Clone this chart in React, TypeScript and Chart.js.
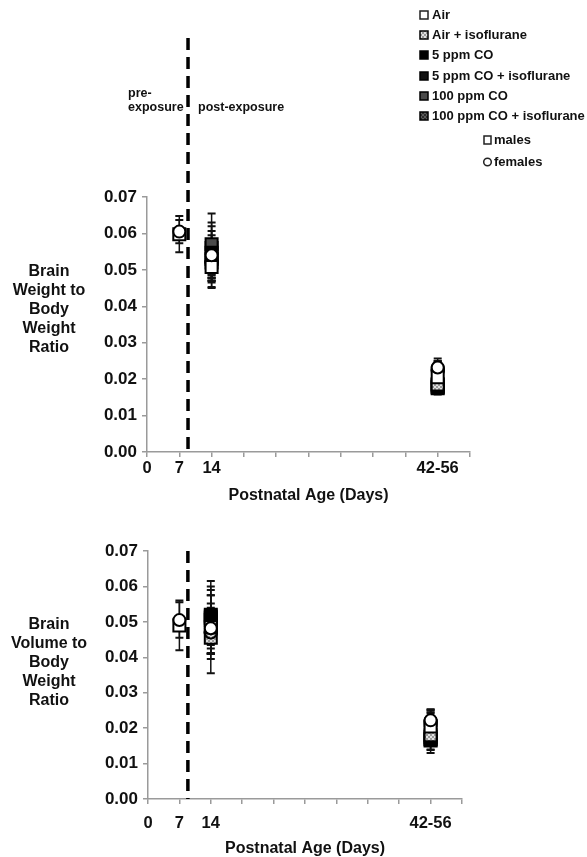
import React, { useEffect, useRef } from 'react';
import { Chart, registerables } from 'chart.js';
Chart.register(...registerables);

const FONT = '"Liberation Sans", Arial, Helvetica, sans-serif';

const groups = ['Air', 'Air + isoflurane', '5 ppm CO', '5 ppm CO + isoflurane', '100 ppm CO', '100 ppm CO + isoflurane'];
const dayPositions = [1, 2, 9];
const xTickPositions = [0, 1, 2, 9];
const xTickLabels = ['0', '7', '14', '42-56'];
const xTitle = 'Postnatal Age (Days)';
const sexLabels = ['males', 'females'];

// Brain weight to body weight ratio (values at 7, 14, 42-56 days)
const weightMales = [
  [0.0598, 0.0508, 0.0205],
  [null, 0.052, 0.0185],
  [null, 0.0547, 0.0175],
  [null, 0.053, 0.018],
  [null, 0.057, 0.0185],
  [null, 0.056, 0.0178],
];
const weightMalesErr = [
  [0.005, 0.0055, 0.0025],
  [null, 0.005, 0.002],
  [null, 0.006, 0.0015],
  [null, 0.0065, 0.002],
  [null, 0.0085, 0.002],
  [null, 0.006, 0.002],
];
const weightFemales = [
  [0.0605, 0.054, 0.0232],
  [null, 0.0518, 0.0222],
  [null, 0.052, 0.0225],
  [null, 0.0522, 0.0228],
  [null, 0.0525, 0.023],
  [null, 0.052, 0.0225],
];
const weightFemalesErr = [
  [0.0032, 0.009, 0.0025],
  [null, 0.004, 0.002],
  [null, 0.005, 0.002],
  [null, 0.0045, 0.0022],
  [null, 0.0055, 0.002],
  [null, 0.0042, 0.002],
];

// Brain volume to body weight ratio
const volumeMales = [
  [0.049, 0.0485, 0.0205],
  [null, 0.0455, 0.018],
  [null, 0.052, 0.0165],
  [null, 0.051, 0.017],
  [null, 0.0515, 0.0175],
  [null, 0.0505, 0.0168],
];
const volumeMalesErr = [
  [0.007, 0.013, 0.003],
  [null, 0.006, 0.0025],
  [null, 0.008, 0.0035],
  [null, 0.0065, 0.003],
  [null, 0.0075, 0.0025],
  [null, 0.007, 0.003],
];
const volumeFemales = [
  [0.0505, 0.0482, 0.0222],
  [null, 0.047, 0.0205],
  [null, 0.0475, 0.0215],
  [null, 0.048, 0.022],
  [null, 0.047, 0.0218],
  [null, 0.0468, 0.0212],
];
const volumeFemalesErr = [
  [0.005, 0.007, 0.003],
  [null, 0.006, 0.0025],
  [null, 0.0065, 0.003],
  [null, 0.0055, 0.003],
  [null, 0.006, 0.0035],
  [null, 0.0058, 0.003],
];

function makePattern(bg: string, fg: string): CanvasPattern | string {
  const c = document.createElement('canvas');
  c.width = 4;
  c.height = 4;
  const ctx = c.getContext('2d');
  if (!ctx) return bg;
  ctx.fillStyle = bg;
  ctx.fillRect(0, 0, 4, 4);
  ctx.fillStyle = fg;
  ctx.fillRect(0, 0, 2, 2);
  ctx.fillRect(2, 2, 2, 2);
  const p = ctx.createPattern(c, 'repeat');
  return p || bg;
}

function groupFills(): any[] {
  return [
    '#ffffff',
    makePattern('#9a9a9a', '#e0e0e0'),
    '#000000',
    '#111111',
    '#4a4a4a',
    makePattern('#2c2c2c', '#5a5a5a'),
  ];
}

function buildDatasets(males: any[][], malesErr: any[][], females: any[][], femalesErr: any[][], fills: any[]) {
  const ds: any[] = [];
  groups.forEach((g, gi) => {
    const mk = (vals: any[], errs: any[], sex: string) => {
      const pts: any[] = [];
      const es: any[] = [];
      vals.forEach((v, i) => {
        if (v !== null) {
          pts.push({ x: dayPositions[i], y: v });
          es.push(errs[i]);
        }
      });
      return {
        label: g + ' ' + sex,
        data: pts,
        errors: es,
        pointStyle: sex === 'females' ? 'circle' : 'rect',
        pointRadius: sex === 'females' ? 6 : 8.5,
        pointBorderWidth: 2,
        pointBorderColor: '#000',
        pointBackgroundColor: fills[gi],
        showLine: false,
      };
    };
    ds.push(mk(females[gi], femalesErr[gi], 'females'));
    ds.push(mk(males[gi], malesErr[gi], 'males'));
  });
  return ds;
}

const errorBarPlugin = {
  id: 'errorBars',
  beforeDatasetsDraw(chart: any) {
    const ctx = chart.ctx;
    const ys = chart.scales.y;
    ctx.save();
    ctx.strokeStyle = '#111';
    chart.data.datasets.forEach((d: any, di: number) => {
      const meta = chart.getDatasetMeta(di);
      meta.data.forEach((pt: any, j: number) => {
        const e = d.errors[j];
        if (e == null) return;
        const v = d.data[j].y;
        const x = pt.x;
        const y1 = ys.getPixelForValue(v + e);
        const y2 = ys.getPixelForValue(v - e);
        ctx.lineWidth = 1.5;
        ctx.beginPath();
        ctx.moveTo(x, y1);
        ctx.lineTo(x, y2);
        ctx.stroke();
        ctx.lineWidth = 2;
        ctx.beginPath();
        ctx.moveTo(x - 4, y1);
        ctx.lineTo(x + 4, y1);
        ctx.moveTo(x - 4, y2);
        ctx.lineTo(x + 4, y2);
        ctx.stroke();
      });
    });
    ctx.restore();
  },
};

function makeOverlayPlugin(cfg: any) {
  return {
    id: 'overlay',
    afterDraw(chart: any) {
      const ctx = chart.ctx;
      const xs = chart.scales.x;
      const area = chart.chartArea;
      ctx.save();
      // dashed separator line
      const lx = xs.getPixelForValue(1.27);
      ctx.strokeStyle = '#000';
      ctx.lineWidth = 3.5;
      ctx.setLineDash([12, 7]);
      ctx.beginPath();
      ctx.moveTo(lx, cfg.lineTop);
      ctx.lineTo(lx, area.bottom);
      ctx.stroke();
      ctx.setLineDash([]);

      ctx.fillStyle = '#111';
      ctx.textBaseline = 'middle';
      // y title
      ctx.font = 'bold 16px ' + FONT;
      ctx.textAlign = 'center';
      cfg.yTitle.forEach((line: string, i: number) => {
        ctx.fillText(line, 49, cfg.yTitleTop + i * 19);
      });
      // x title
      ctx.fillText(xTitle, (area.left + area.right) / 2, cfg.xTitleY);

      if (cfg.annotations) {
        ctx.font = 'bold 12.5px ' + FONT;
        ctx.textAlign = 'left';
        ctx.fillText('pre-', 128, 94);
        ctx.fillText('exposure', 128, 108);
        ctx.fillText('post-exposure', 198, 108);
      }

      if (cfg.legend) {
        const fills = cfg.fills;
        const ly = [15, 35, 55, 76, 96, 116];
        ctx.font = 'bold 13px ' + FONT;
        ctx.textAlign = 'left';
        groups.forEach((g, i) => {
          ctx.fillStyle = fills[i];
          ctx.fillRect(420, ly[i] - 4, 8, 8);
          ctx.strokeStyle = i === 0 ? '#222' : '#000';
          ctx.lineWidth = 1.5;
          ctx.strokeRect(420, ly[i] - 4, 8, 8);
          ctx.fillStyle = '#111';
          ctx.fillText(g, 432, ly[i]);
        });
        // sex legend
        ctx.fillStyle = '#fff';
        ctx.strokeStyle = '#222';
        ctx.lineWidth = 1.5;
        ctx.fillRect(484, 136, 7, 8);
        ctx.strokeRect(484, 136, 7, 8);
        ctx.beginPath();
        ctx.arc(487.5, 162, 3.8, 0, Math.PI * 2);
        ctx.fill();
        ctx.stroke();
        ctx.fillStyle = '#111';
        ctx.fillText(sexLabels[0], 494, 140);
        ctx.fillText(sexLabels[1], 494, 162);
      }
      ctx.restore();
    },
  };
}

function makeConfig(datasets: any[], opt: any, overlay: any) {
  const axisColor = '#9a9a9a';
  return {
    type: 'scatter' as const,
    data: { datasets },
    options: {
      responsive: false,
      animation: false,
      layout: { padding: { top: opt.padTop, right: opt.padRight, left: 0, bottom: 0 } },
      plugins: { legend: { display: false }, tooltip: { enabled: false } },
      scales: {
        x: {
          type: 'linear',
          min: 0,
          max: 10,
          afterBuildTicks: (s: any) => {
            const t: any[] = [];
            for (let v = 0; v <= 10; v++) t.push({ value: v });
            s.ticks = t;
          },
          ticks: {
            autoSkip: false,
            maxRotation: 0,
            padding: opt.xTickPad,
            color: '#111',
            font: { family: FONT, size: 16.5, weight: 'bold' },
            callback: (v: any) => {
              const idx = xTickPositions.indexOf(Number(v));
              return idx >= 0 ? xTickLabels[idx] : '';
            },
          },
          grid: { display: true, drawOnChartArea: false, drawTicks: true, tickLength: 5, color: axisColor, lineWidth: 1.5 },
          border: { display: true, color: axisColor, width: 1.5 },
          afterFit: (s: any) => {
            s.height = opt.xHeight;
          },
        },
        y: {
          min: 0,
          max: 0.07,
          ticks: {
            stepSize: 0.01,
            padding: 5,
            color: '#111',
            font: { family: FONT, size: 17, weight: 'bold' },
            callback: (v: any) => Number(v).toFixed(2),
          },
          grid: { display: true, drawOnChartArea: false, drawTicks: true, tickLength: 5, color: axisColor, lineWidth: 1.5 },
          border: { display: true, color: axisColor, width: 1.5 },
          afterFit: (s: any) => {
            s.width = opt.yWidth;
          },
        },
      },
    },
    plugins: [errorBarPlugin, makeOverlayPlugin(overlay)],
  };
}

export default function App() {
  const topRef = useRef<HTMLCanvasElement | null>(null);
  const botRef = useRef<HTMLCanvasElement | null>(null);

  useEffect(() => {
    const fills = groupFills();
    const top = new Chart(
      topRef.current as HTMLCanvasElement,
      makeConfig(
        buildDatasets(weightMales, weightMalesErr, weightFemales, weightFemalesErr, fills),
        { padTop: 197, padRight: 117, xTickPad: 2, xHeight: 58, yWidth: 147 },
        {
          lineTop: 38,
          yTitle: ['Brain', 'Weight to', 'Body', 'Weight', 'Ratio'],
          yTitleTop: 272,
          xTitleY: 496,
          annotations: true,
          legend: true,
          fills,
        }
      ) as any
    );
    const bot = new Chart(
      botRef.current as HTMLCanvasElement,
      makeConfig(
        buildDatasets(volumeMales, volumeMalesErr, volumeFemales, volumeFemalesErr, fills),
        { padTop: 41, padRight: 125, xTickPad: 10, xHeight: 58, yWidth: 148 },
        {
          lineTop: 41,
          yTitle: ['Brain', 'Volume to', 'Body', 'Weight', 'Ratio'],
          yTitleTop: 625 - 510,
          xTitleY: 849 - 510,
          annotations: false,
          legend: false,
          fills,
        }
      ) as any
    );
    return () => {
      top.destroy();
      bot.destroy();
    };
  }, []);

  return (
    <div style={{ position: 'absolute', left: 0, top: 0, width: 587, height: 857, background: '#fff' }}>
      <canvas ref={topRef} width={587} height={510} style={{ position: 'absolute', left: 0, top: 0, width: 587, height: 510 }} />
      <canvas ref={botRef} width={587} height={347} style={{ position: 'absolute', left: 0, top: 510, width: 587, height: 347 }} />
    </div>
  );
}
